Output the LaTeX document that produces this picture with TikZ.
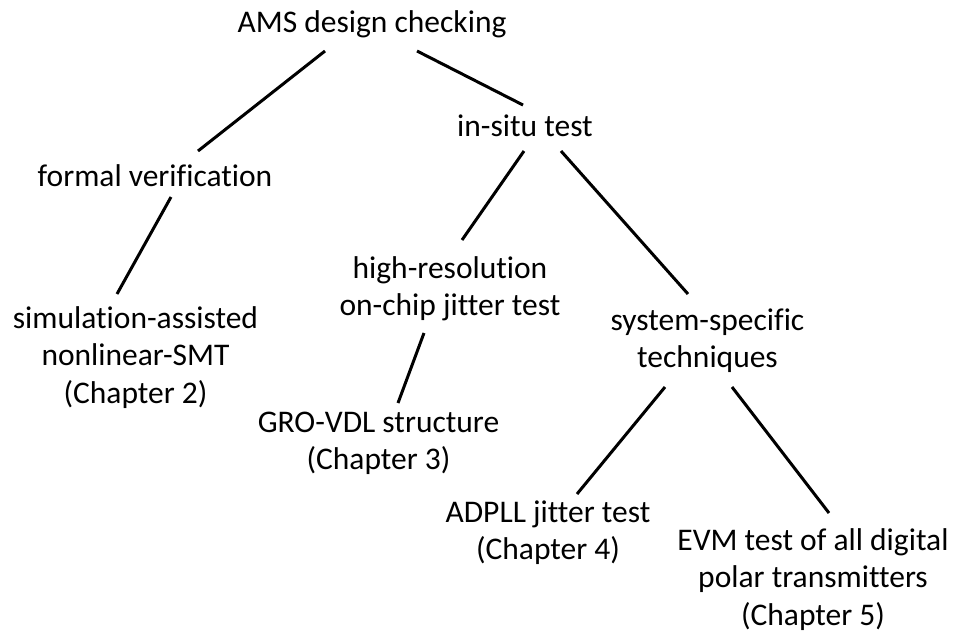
\documentclass[tikz,border=0pt]{standalone}
\usepackage{fontspec}
\setmainfont{Carlito}[Ligatures={NoCommon}]
\begin{document}
\begin{tikzpicture}[x=1pt,y=-1pt,
  lbl/.style={inner sep=0pt, align=center, anchor=base,
    font=\fontsize{31.5}{37.5}\selectfont},
  link/.style={line width=3pt}]
\useasboundingbox (0,0) rectangle (961,633);

% topics (each placed by the baseline of its last line)
\node[lbl] (ams)    at (372,32)    {AMS design checking};
\node[lbl] (insitu) at (525,136)   {in-situ test};
\node[lbl] (formal) at (155,186)   {formal verification};
\node[lbl] (sim)    at (135.5,403) {simulation-assisted\\nonlinear-SMT\\(Chapter 2)};
\node[lbl] (hires)  at (450,315.5) {high-resolution\\on-chip jitter test};
\node[lbl] (sys)    at (707.5,367.5) {system-specific\\techniques};
\node[lbl] (gro)    at (378.5,469.5) {GRO-VDL structure\\(Chapter 3)};
\node[lbl] (adpll)  at (548,559.5) {ADPLL jitter test\\(Chapter 4)};
\node[lbl] (evm)    at (813,625)   {EVM test of all digital\\polar transmitters\\(Chapter 5)};

% tree edges
\draw[link] ([shift={(-47,19)}]ams.base)     -- ([shift={(43,-35)}]formal.base);
\draw[link] ([shift={(45,19)}]ams.base)      -- ([shift={(-2,-31)}]insitu.base);
\draw[link] ([shift={(-1,15)}]insitu.base)   -- ([shift={(12,-75.5)}]hires.base);
\draw[link] ([shift={(36,15)}]insitu.base)   -- ([shift={(-19.5,-73.5)}]sys.base);
\draw[link] ([shift={(16,11)}]formal.base)   -- ([shift={(-18.5,-109)}]sim.base);
\draw[link] ([shift={(-26,17.5)}]hires.base) -- ([shift={(19.5,-66.5)}]gro.base);
\draw[link] ([shift={(-42.5,19.5)}]sys.base) -- ([shift={(29,-65.5)}]adpll.base);
\draw[link] ([shift={(24.5,19.5)}]sys.base)  -- ([shift={(16,-112)}]evm.base);
\end{tikzpicture}
\end{document}
